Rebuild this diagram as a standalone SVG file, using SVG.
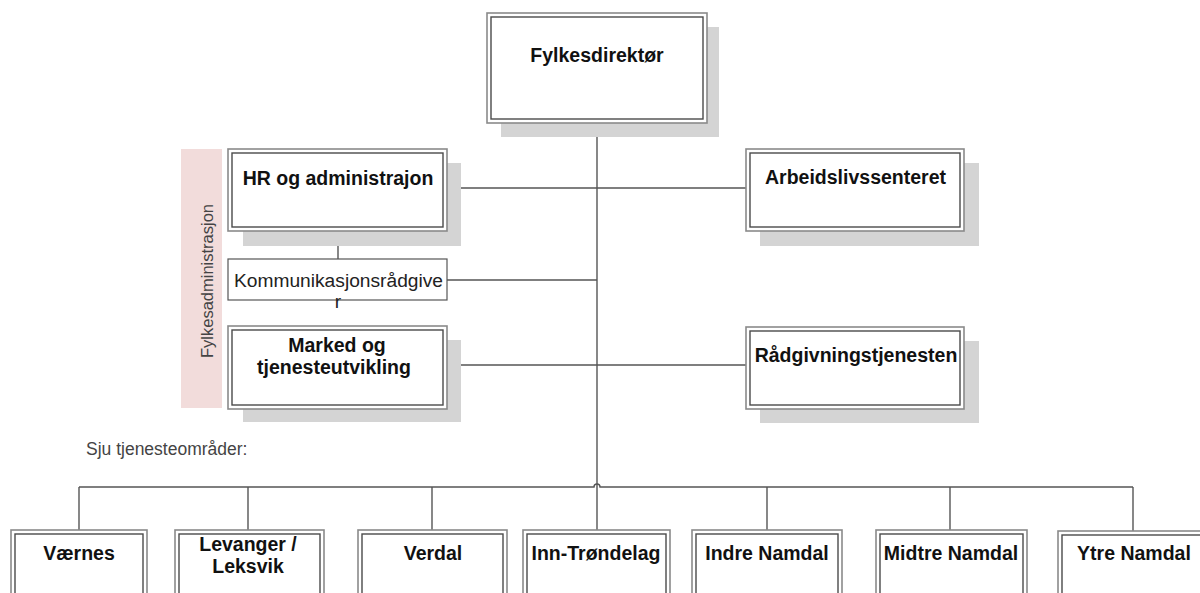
<svg xmlns="http://www.w3.org/2000/svg" width="1200" height="593" viewBox="0 0 1200 593">
  <style>
    .shadow { fill: #d4d4d4; }
    .outer { fill: #ffffff; stroke: #8a8a8a; stroke-width: 1.6; }
    .inner { fill: none; stroke: #4a4a4a; stroke-width: 1.4; }
    .plain { fill: #ffffff; stroke: #555555; stroke-width: 1.2; }
    .title { font-family: "Liberation Sans", Arial, sans-serif; font-weight: bold; font-size: 19.5px; fill: #111111; text-anchor: middle; }
    .label { font-family: "Liberation Sans", Arial, sans-serif; font-size: 19.2px; fill: #222222; text-anchor: middle; }
    .note { font-family: "Liberation Sans", Arial, sans-serif; font-size: 16.5px; fill: #444444; }
    .conn { fill: none; stroke: #555555; stroke-width: 1.4; }
  </style>

  <!-- side band for the county administration -->
  <g id="fylkesadministrasjon">
    <rect x="181" y="149" width="41" height="259" fill="#f2dcdb"/>
    <text class="note" transform="translate(213,281) rotate(-90)" text-anchor="middle">Fylkesadministrasjon</text>
  </g>

  <!-- connectors -->
  <g id="connectors">
    <line class="conn" x1="597" y1="123" x2="597" y2="531"/>
    <line class="conn" x1="447" y1="188" x2="746" y2="188"/>
    <line class="conn" x1="447" y1="280" x2="597" y2="280"/>
    <line class="conn" x1="447" y1="365" x2="746" y2="365"/>
    <line class="conn" x1="338" y1="231" x2="338" y2="259"/>
    <!-- district bus, hopping over the trunk -->
    <path class="conn" d="M79 487 H594 A3 3 0 0 1 600 487 H1133"/>
    <line class="conn" x1="79" y1="487" x2="79" y2="531"/>
    <line class="conn" x1="248" y1="487" x2="248" y2="531"/>
    <line class="conn" x1="432" y1="487" x2="432" y2="531"/>
    <line class="conn" x1="767" y1="487" x2="767" y2="531"/>
    <line class="conn" x1="950" y1="487" x2="950" y2="531"/>
    <line class="conn" x1="1133" y1="487" x2="1133" y2="531"/>
  </g>

  <g id="fylkesdirektor">
    <rect class="shadow" x="501" y="27" width="218" height="110"/>
    <rect class="outer" x="487" y="13" width="220" height="110"/>
    <rect class="inner" x="491" y="17" width="212" height="102"/>
    <text class="title" x="597" y="62">Fylkesdirektør</text>
  </g>

  <g id="hr">
    <rect class="shadow" x="243" y="163" width="218" height="83"/>
    <rect class="outer" x="228" y="149" width="219" height="82"/>
    <rect class="inner" x="232" y="153" width="211" height="74"/>
    <text class="title" x="338" y="185">HR og administrajon</text>
  </g>

  <g id="kommunikasjon">
    <rect class="plain" x="228" y="259" width="219" height="41"/>
    <text class="label" x="338.5" y="287">Kommunikasjonsrådgive</text>
    <text class="label" x="338" y="308">r</text>
  </g>

  <g id="marked">
    <rect class="shadow" x="243" y="340" width="218" height="82"/>
    <rect class="outer" x="228" y="326" width="219" height="83"/>
    <rect class="inner" x="232" y="330" width="211" height="75"/>
    <text class="title" x="337" y="351.5">Marked og</text>
    <text class="title" x="334" y="374">tjenesteutvikling</text>
  </g>

  <g id="arbeidslivssenteret">
    <rect class="shadow" x="760" y="163" width="219" height="83"/>
    <rect class="outer" x="746" y="149" width="218" height="82"/>
    <rect class="inner" x="750" y="153" width="210" height="74"/>
    <text class="title" x="855.5" y="184">Arbeidslivssenteret</text>
  </g>

  <g id="radgivningstjenesten">
    <rect class="shadow" x="760" y="341" width="219" height="82"/>
    <rect class="outer" x="746" y="327" width="218" height="82"/>
    <rect class="inner" x="750" y="331" width="210" height="74"/>
    <text class="title" x="856" y="362">Rådgivningstjenesten</text>
  </g>

  <text id="sju" class="note" x="86" y="455" style="font-size:17.5px">Sju tjenesteområder:</text>

  <g id="vaernes">
    <rect class="outer" x="11" y="530" width="136" height="90"/>
    <rect class="inner" x="15" y="534" width="128" height="82"/>
    <text class="title" x="79" y="560">Værnes</text>
  </g>
  <g id="levanger">
    <rect class="outer" x="175" y="530" width="149" height="90"/>
    <rect class="inner" x="179" y="534" width="141" height="82"/>
    <text class="title" x="248" y="550.5">Levanger /</text>
    <text class="title" x="248" y="573">Leksvik</text>
  </g>
  <g id="verdal">
    <rect class="outer" x="358" y="530" width="149" height="90"/>
    <rect class="inner" x="362" y="534" width="141" height="82"/>
    <text class="title" x="433" y="560">Verdal</text>
  </g>
  <g id="inn-trondelag">
    <rect class="outer" x="523" y="530" width="147" height="90"/>
    <rect class="inner" x="527" y="534" width="139" height="82"/>
    <text class="title" x="596" y="560">Inn-Trøndelag</text>
  </g>
  <g id="indre-namdal">
    <rect class="outer" x="692" y="530" width="150" height="90"/>
    <rect class="inner" x="696" y="534" width="142" height="82"/>
    <text class="title" x="767" y="560">Indre Namdal</text>
  </g>
  <g id="midtre-namdal">
    <rect class="outer" x="876" y="530" width="151" height="90"/>
    <rect class="inner" x="880" y="534" width="143" height="82"/>
    <text class="title" x="951" y="560">Midtre Namdal</text>
  </g>
  <g id="ytre-namdal">
    <rect class="outer" x="1058" y="531" width="160" height="90"/>
    <rect class="inner" x="1062" y="535" width="152" height="82"/>
    <text class="title" x="1134" y="560">Ytre Namdal</text>
  </g>
</svg>
